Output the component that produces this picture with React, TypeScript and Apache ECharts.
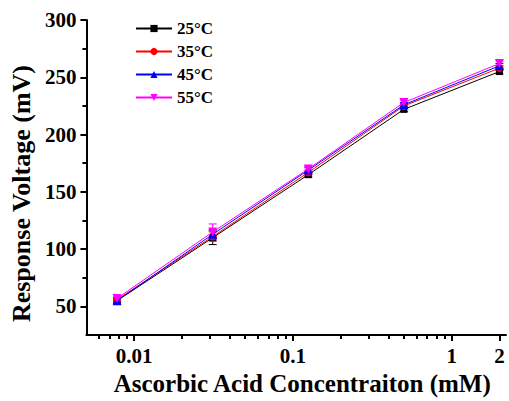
import React, { useEffect, useRef } from "react";
import * as echarts from "echarts";

const concentrations = [0.0078, 0.03125, 0.125, 0.5, 2];
const seriesNames = ["25°C", "35°C", "45°C", "55°C"];
const values25 = [55, 110, 165, 222, 255];
const values35 = [56, 111, 167, 225, 258];
const values45 = [55, 113, 169, 226, 260];
const values55 = [57, 115, 170, 228, 262];
const errors25 = [2, 6, 2, 2, 2];
const errors35 = [2, 4, 2, 2, 2];
const errors45 = [2, 4, 2, 2, 2];
const errors55 = [2, 7, 2, 2, 2];
const colors = ["#000000", "#ff0000", "#0000ff", "#ff00ff"];
const symbols = ["rect", "circle", "triangle", "path://M0,0 L10,0 L5,9 Z"];

const xMajorTicks = [0.01, 0.1, 1, 2];
const xMinorTicks = [0.006, 0.007, 0.008, 0.009, 0.02, 0.03, 0.04, 0.05, 0.06, 0.07, 0.08, 0.09, 0.2, 0.3, 0.4, 0.5, 0.6, 0.7, 0.8, 0.9];
const yMajorTicks = [50, 100, 150, 200, 250, 300];
const yMinorTicks = [75, 125, 175, 225, 275];

const FONT = "'Liberation Serif', 'Times New Roman', serif";

export default function App() {
  const ref = useRef<HTMLDivElement>(null);
  useEffect(() => {
    if (!ref.current) return;
    const chart = echarts.init(ref.current, undefined, { renderer: "svg" });
    const allValues = [values25, values35, values45, values55];
    const allErrors = [errors25, errors35, errors45, errors55];

    const lineSeries = seriesNames.map((name, i) => ({
      name,
      type: "line",
      xAxisIndex: 0,
      yAxisIndex: 0,
      data: concentrations.map((c, j) => [c, allValues[i][j]]),
      symbol: symbols[i],
      symbolSize: i === 1 ? 8 : i === 0 ? 7 : 9,
      lineStyle: { color: colors[i], width: 1 },
      itemStyle: { color: colors[i] },
      z: 3 + i,
    }));

    const errorSeries = seriesNames.map((name, i) => ({
      name: name + " err",
      type: "custom",
      xAxisIndex: 0,
      yAxisIndex: 0,
      data: concentrations.map((c, j) => [c, allValues[i][j] - allErrors[i][j], allValues[i][j] + allErrors[i][j]]),
      renderItem: (params: any, api: any) => {
        const x = api.value(0);
        const lo = api.coord([x, api.value(1)]);
        const hi = api.coord([x, api.value(2)]);
        const w = 4;
        const style = { stroke: colors[i], lineWidth: 1 };
        return {
          type: "group",
          children: [
            { type: "line", shape: { x1: lo[0], y1: lo[1], x2: hi[0], y2: hi[1] }, style },
            { type: "line", shape: { x1: lo[0] - w, y1: lo[1], x2: lo[0] + w, y2: lo[1] }, style },
            { type: "line", shape: { x1: hi[0] - w, y1: hi[1], x2: hi[0] + w, y2: hi[1] }, style },
          ],
        };
      },
      z: 2,
      silent: true,
    }));

    const labelStyle = { fontFamily: FONT, fontWeight: "bold", fontSize: 21, color: "#000" };

    chart.setOption({
      animation: false,
      backgroundColor: "#fff",
      grid: { left: 85, right: 3, top: 20, bottom: 59, containLabel: false },
      legend: {
        data: seriesNames,
        orient: "vertical",
        left: 130,
        top: 15,
        itemWidth: 36,
        itemHeight: 9,
        itemGap: 6,
        textStyle: { fontFamily: FONT, fontWeight: "bold", fontSize: 17, color: "#000" },
      },
      xAxis: [
        {
          type: "log",
          min: 0.005,
          max: 2.2,
          position: "bottom",
          name: "Ascorbic Acid Concentraiton (mM)",
          nameLocation: "middle",
          nameGap: 33,
          nameTextStyle: { fontFamily: FONT, fontWeight: "bold", fontSize: 25, color: "#000", padding: [0, 0, 0, 12] },
          axisLine: { show: true, lineStyle: { color: "#000", width: 2 } },
          axisTick: { show: true, customValues: xMajorTicks, length: 6, inside: false, lineStyle: { color: "#000", width: 2 } },
          axisLabel: { show: true, customValues: xMajorTicks, ...labelStyle, margin: 10, formatter: (v: number) => String(v) },
          splitLine: { show: false },
          minorTick: { show: false },
        },
        {
          type: "log",
          min: 0.005,
          max: 2.2,
          position: "bottom",
          axisLine: { show: false },
          axisTick: { show: true, customValues: xMinorTicks, length: 4, inside: false, lineStyle: { color: "#000", width: 2 } },
          axisLabel: { show: false },
          splitLine: { show: false },
        },
      ],
      yAxis: [
        {
          type: "value",
          min: 25,
          max: 300,
          position: "left",
          name: "Response Voltage (mV)",
          nameLocation: "middle",
          nameGap: 50,
          nameTextStyle: { fontFamily: FONT, fontWeight: "bold", fontSize: 26, color: "#000", padding: [0, 32, 0, 0] },
          axisLine: { show: true, lineStyle: { color: "#000", width: 2 } },
          axisTick: { show: true, customValues: yMajorTicks, length: 6, lineStyle: { color: "#000", width: 2 } },
          axisLabel: { show: true, customValues: yMajorTicks, ...labelStyle, margin: 10 },
          splitLine: { show: false },
        },
        {
          type: "value",
          min: 25,
          max: 300,
          position: "left",
          axisLine: { show: false },
          axisTick: { show: true, customValues: yMinorTicks, length: 4, lineStyle: { color: "#000", width: 2 } },
          axisLabel: { show: false },
          splitLine: { show: false },
        },
      ],
      series: [...errorSeries, ...lineSeries],
    });
    return () => chart.dispose();
  }, []);
  return <div ref={ref} style={{ width: 509, height: 401, position: "absolute", left: 0, top: 0 }} />;
}
